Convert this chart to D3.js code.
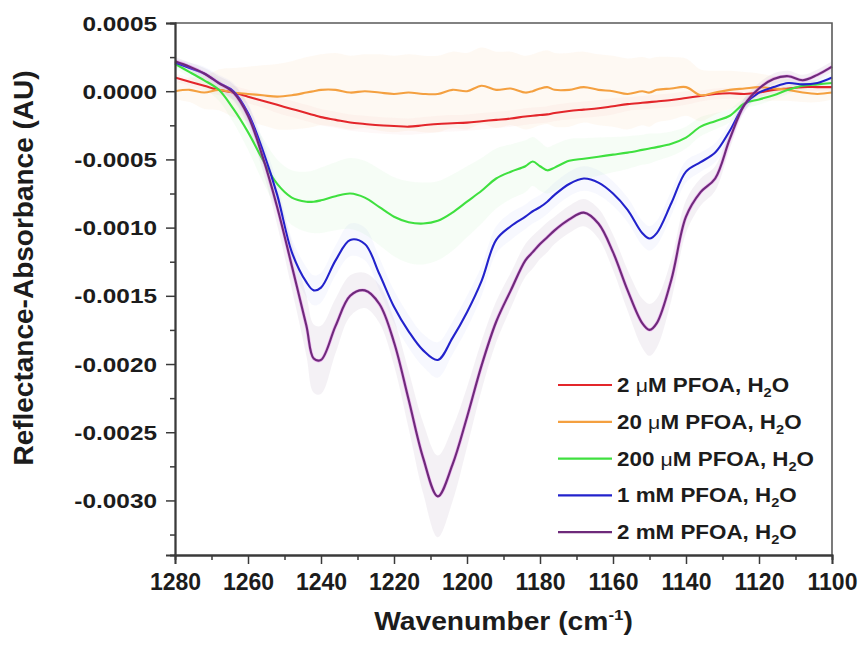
<!DOCTYPE html>
<html><head><meta charset="utf-8">
<script src="https://cdn.jsdelivr.net/npm/d3@7/dist/d3.min.js"></script>
<style>
html,body{margin:0;padding:0;background:#fff;}
svg text{font-family:"Liberation Sans",Arial,Helvetica,sans-serif;font-weight:bold;fill:#1c1c1c;}
</style></head>
<body>
<svg id="chart" width="861" height="647"></svg>
<script>
// Values in units of 1e-4 AU
const unit = 1e-4;
const wavenumbers = [1280,1276,1272,1268,1264,1260,1256,1252,1248,1244,1242,1240,1236,1232,1228,1224,1220,1216,1212,1208,1204,1200,1196,1192,1188,1184,1182,1180,1178,1176,1172,1168,1164,1160,1156,1152,1150,1148,1144,1140,1136,1132,1128,1124,1120,1116,1112,1108,1104,1100];

const pfoa2uM = [1.0,0.7,0.4,0.1,-0.1,-0.4,-0.7,-1.0,-1.3,-1.6,-1.75,-1.9,-2.1,-2.3,-2.4,-2.5,-2.55,-2.6,-2.5,-2.4,-2.35,-2.3,-2.2,-2.1,-2.0,-1.85,-1.8,-1.75,-1.7,-1.6,-1.45,-1.35,-1.25,-1.1,-0.95,-0.85,-0.8,-0.75,-0.65,-0.5,-0.35,-0.2,-0.15,-0.2,-0.1,0.1,0.2,0.3,0.3,0.3];
const pfoa20uM = [0.0,0.1,-0.1,0.1,-0.1,-0.2,-0.3,-0.4,-0.3,-0.1,0.0,0.1,0.1,-0.1,0.0,-0.1,-0.2,-0.1,-0.2,-0.2,0.1,0.0,0.4,0.1,0.2,-0.1,0.0,0.2,0.3,0.1,0.1,0.3,0.1,0.0,-0.2,0.0,-0.1,0.1,0.2,0.3,-0.3,-0.1,0.1,0.2,0.3,0.2,0.1,-0.1,-0.2,-0.1];
const pfoa200uM = [2.0,1.4,0.8,0.1,-1.3,-3.0,-5.0,-6.8,-7.8,-8.1,-8.1,-8.0,-7.7,-7.5,-7.8,-8.5,-9.2,-9.6,-9.7,-9.5,-8.9,-8.1,-7.3,-6.4,-5.9,-5.5,-5.15,-5.5,-5.8,-5.6,-5.1,-4.95,-4.8,-4.65,-4.5,-4.3,-4.2,-4.1,-3.85,-3.4,-2.6,-2.2,-1.8,-0.9,-0.6,-0.3,0.1,0.4,0.5,0.6];
const pfoa1mM = [2.1,1.7,1.3,0.6,0.0,-1.6,-4.3,-7.6,-11.8,-14.0,-14.6,-14.4,-12.4,-10.9,-11.2,-13.4,-15.8,-17.6,-19.0,-19.7,-18.1,-16.2,-13.9,-10.9,-9.9,-9.2,-8.8,-8.5,-8.1,-7.6,-6.8,-6.4,-6.7,-7.5,-8.7,-10.4,-10.8,-10.4,-8.2,-5.9,-5.2,-4.5,-2.9,-1.0,-0.1,0.3,0.6,0.5,0.6,1.0];
const pfoa2mM = [2.2,1.8,1.3,0.6,-0.1,-1.8,-4.8,-8.5,-12.8,-17.2,-19.6,-19.7,-17.2,-15.0,-14.6,-15.6,-18.4,-22.6,-26.9,-29.7,-27.4,-23.9,-20.1,-16.9,-14.6,-12.4,-11.8,-11.2,-10.7,-10.2,-9.4,-8.9,-9.7,-11.8,-14.6,-17.0,-17.5,-17.0,-13.8,-9.2,-7.4,-6.4,-3.5,-1.0,0.2,0.9,1.1,0.8,1.2,1.8];

// Standard deviations (same units)
const sd2uM = [0.3,0.3,0.4,0.4,0.5,0.5,0.5,0.6,0.6,0.6,0.6,0.6,0.6,0.6,0.6,0.6,0.6,0.6,0.6,0.6,0.6,0.6,0.6,0.6,0.6,0.6,0.6,0.6,0.6,0.6,0.6,0.6,0.6,0.6,0.5,0.5,0.5,0.5,0.5,0.5,0.4,0.4,0.4,0.4,0.3,0.3,0.3,0.3,0.3,0.3];
const sd20uM = [0.6,0.9,1.2,1.5,1.8,2.0,2.2,2.4,2.5,2.6,2.6,2.6,2.7,2.7,2.7,2.8,2.8,2.8,2.8,2.8,2.8,2.8,2.8,2.8,2.7,2.7,2.7,2.7,2.7,2.7,2.7,2.6,2.6,2.6,2.6,2.5,2.5,2.4,2.3,2.1,1.9,1.6,1.4,1.2,1.0,0.9,0.8,0.7,0.6,0.5];
const sd200uM = [0.3,0.4,0.6,0.8,1.0,1.3,1.6,1.8,2.0,2.2,2.3,2.4,2.5,2.6,2.7,2.8,2.9,3.0,3.0,2.9,2.8,2.6,2.4,2.2,2.0,1.9,1.8,1.8,1.7,1.7,1.6,1.5,1.4,1.3,1.2,1.1,1.1,1.0,0.9,0.8,0.7,0.6,0.5,0.4,0.4,0.3,0.3,0.3,0.3,0.3];
const sd1mM = [0.3,0.4,0.5,0.6,0.6,0.7,0.8,0.9,1.0,1.1,1.1,1.1,1.1,1.2,1.2,1.2,1.2,1.2,1.2,1.3,1.2,1.2,1.1,1.0,1.0,0.9,0.9,0.9,0.9,0.9,0.9,0.9,0.9,0.9,0.9,0.9,0.9,0.9,0.9,0.8,0.7,0.7,0.6,0.5,0.4,0.4,0.3,0.3,0.3,0.3];
const sd2mM = [0.3,0.3,0.4,0.5,0.6,0.8,1.0,1.3,1.7,2.2,2.5,2.5,2.0,1.5,1.3,1.4,1.7,2.1,2.6,3.0,2.7,2.2,1.8,1.5,1.3,1.2,1.2,1.1,1.1,1.0,1.0,1.0,1.1,1.3,1.5,1.8,1.9,1.8,1.5,1.2,1.0,0.9,0.7,0.5,0.4,0.4,0.4,0.4,0.4,0.4];

const seriesNames = ["2 μM PFOA, H|2|O","20 μM PFOA, H|2|O","200 μM PFOA, H|2|O","1 mM PFOA, H|2|O","2 mM PFOA, H|2|O"];
const seriesColors = ["#e3262b","#f4a040","#3fe03f","#2222cc","#6e2a7a"];
const bandColors = ["#f08a8a","#f6c08c","#a8f0a8","#a8b0f4","#b8aabf"];
const bandOpacity = [0.06,0.1,0.1,0.09,0.16];
const seriesValues = [pfoa2uM,pfoa20uM,pfoa200uM,pfoa1mM,pfoa2mM];
const seriesSD = [sd2uM,sd20uM,sd200uM,sd1mM,sd2mM];

const xTicks = [1280,1260,1240,1220,1200,1180,1160,1140,1120,1100];
const xMinor = [1270,1250,1230,1210,1190,1170,1150,1130,1110];
const yTicks = [0.0005,0,-0.0005,-0.0010,-0.0015,-0.0020,-0.0025,-0.0030];
const yTickLabels = ["0.0005","0.0000","-0.0005","-0.0010","-0.0015","-0.0020","-0.0025","-0.0030"];
const yMinor = [0.00025,-0.00025,-0.00075,-0.00125,-0.00175,-0.00225,-0.00275,-0.00325];

const L=175,R=832,T=23,B=555;
const svg = d3.select("#chart");
const x = d3.scaleLinear().domain([1280,1100]).range([L,R]);
const y = d3.scaleLinear().domain([-0.0034,0.0005]).range([B,T]);

const area = d3.area().x(d=>x(d.w)).y0(d=>y(d.v-d.s)).y1(d=>y(d.v+d.s)).curve(d3.curveCatmullRom.alpha(0.5));
const line = d3.line().x(d=>x(d.w)).y(d=>y(d.v)).curve(d3.curveCatmullRom.alpha(0.5));
const data = seriesValues.map((vals,i)=>wavenumbers.map((w,j)=>({w, v: vals[j]*unit, s: seriesSD[i][j]*unit})));

const gPlot = svg.append("g");
data.forEach((d,i)=>{
  gPlot.append("path").attr("d",area(d)).attr("fill",bandColors[i]).attr("fill-opacity",bandOpacity[i]).attr("stroke","none");
});
data.forEach((d,i)=>{
  if(i===4){
    gPlot.append("path").attr("d",line(d)).attr("fill","none").attr("stroke","#e050e8").attr("stroke-opacity",0.4).attr("stroke-width",3.4);
  }
  gPlot.append("path").attr("d",line(d)).attr("fill","none").attr("stroke",seriesColors[i]).attr("stroke-width",2.1).attr("stroke-linejoin","round");
});

// frame
svg.append("path").attr("d",`M${L},${T}H${R}V${B}`).attr("fill","none").attr("stroke","#5a5a5a").attr("stroke-width",1.6);

// axes
const axisColor="#3a3a3a";
const gx = svg.append("g").attr("transform",`translate(0,${B})`)
  .call(d3.axisBottom(x).tickValues(xTicks).tickSize(9).tickFormat(d3.format("d")));
const gxm = svg.append("g").attr("transform",`translate(0,${B})`)
  .call(d3.axisBottom(x).tickValues(xMinor).tickSize(5).tickFormat(""));
const gy = svg.append("g").attr("transform",`translate(${L},0)`)
  .call(d3.axisLeft(y).tickValues(yTicks).tickSize(9).tickFormat((d,i)=>yTickLabels[i]));
const gym = svg.append("g").attr("transform",`translate(${L},0)`)
  .call(d3.axisLeft(y).tickValues(yMinor).tickSize(5).tickFormat(""));
[gx,gxm,gy,gym].forEach(g=>{
  g.attr("font-family",null).attr("font-size",null);
  g.selectAll(".domain").attr("stroke",axisColor).attr("stroke-width",1.8);
  g.selectAll(".tick line").attr("stroke",axisColor).attr("stroke-width",1.5);
});
gx.selectAll(".tick text").attr("y",35).attr("dy",0).style("font-size","23px").attr("fill","#1c1c1c");
gy.selectAll(".tick text").attr("x",-14.4).attr("dy","0.36em").attr("transform","scale(1.25,1)").style("font-size","19.5px").attr("fill","#1c1c1c");

// axis titles
const xt = svg.append("text").attr("transform",`translate(${(L+R)/2},630) scale(1.13,1)`).attr("text-anchor","middle").style("font-size","25px");
xt.append("tspan").text("Wavenumber (cm");
xt.append("tspan").text("-1").style("font-size","15px").attr("dy",-10);
xt.append("tspan").text(")").attr("dy",10);
svg.append("text").attr("transform","translate(33,268) rotate(-90)").attr("text-anchor","middle").style("font-size","28px").text("Reflectance-Absorbance (AU)");

// legend
const lg = svg.append("g");
seriesNames.forEach((name,i)=>{
  const ly = 385 + i*36.8;
  lg.append("line").attr("x1",558).attr("x2",612).attr("y1",ly).attr("y2",ly).attr("stroke",seriesColors[i]).attr("stroke-width",2.2);
  const parts = name.split("|");
  const t = lg.append("text").attr("transform",`translate(617,${ly+7}) scale(1.12,1)`).style("font-size","20px");
  if(parts[0].includes("μ")){
    const pre = parts[0].split("μ");
    t.append("tspan").text(pre[0]);
    t.append("tspan").text("μ").style("font-weight","normal").style("font-size","19px");
    t.append("tspan").text(pre[1]);
  } else {
    t.append("tspan").text(parts[0]);
  }
  t.append("tspan").text(parts[1]).style("font-size","13px").attr("dy",5);
  t.append("tspan").text(parts[2]).attr("dy",-5);
});
</script>
</body></html>
